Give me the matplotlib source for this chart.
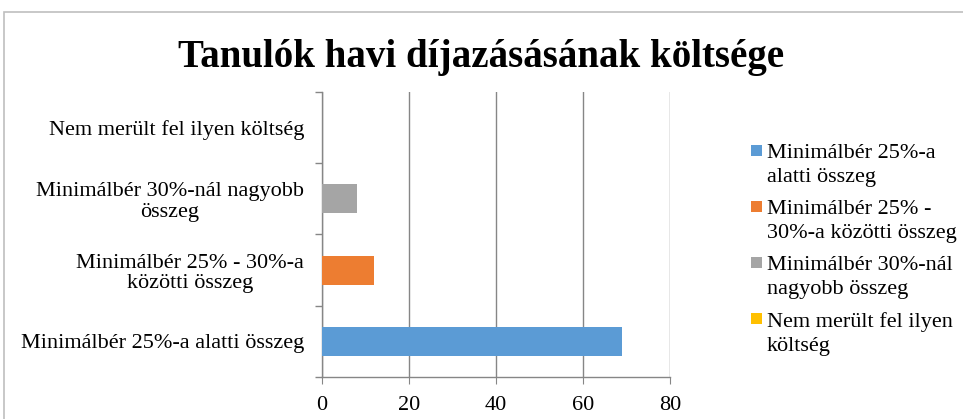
import matplotlib
matplotlib.use("Agg")
import matplotlib.pyplot as plt
from matplotlib.patches import Rectangle
from matplotlib.legend_handler import HandlerPatch

plt.rcParams['font.family'] = ['Liberation Serif', 'DejaVu Serif']

title = "Tanulók havi díjazásásának költsége"
categories = ["Minimálbér 25%-a alatti összeg",
              "Minimálbér 25% - 30%-a\nközötti összeg",
              "Minimálbér 30%-nál nagyobb\nösszeg",
              "Nem merült fel ilyen költség"]
series_names = ["Minimálbér 25%-a\nalatti összeg",
                "Minimálbér 25% -\n30%-a közötti összeg",
                "Minimálbér 30%-nál\nnagyobb összeg",
                "Nem merült fel ilyen\nköltség"]
values = [69, 12, 8, 0]
colors = ["#5b9bd5", "#ed7d31", "#a5a5a5", "#ffc000"]
xticks = [0, 20, 40, 60, 80]

FS = 16

fig = plt.figure(figsize=(9.63, 4.19), dpi=100)
fig.patches.append(Rectangle((4 / 963, -0.1), 1.2, 1 - 12 / 419 + 0.1, transform=fig.transFigure,
                             fill=False, edgecolor="#bfbfbf", linewidth=1.2))
ax = fig.add_axes([322 / 963, 1 - 377 / 419, (670 - 322) / 963, (377 - 92) / 419])

handles = []
for i, (name, v, c) in enumerate(zip(series_names, values, colors)):
    bars = ax.barh([i], [v], height=0.41, color=c, label=name, zorder=3)
    handles.append(bars.patches[0])

ax.set_xlim(0, 80)
ax.set_ylim(-0.5, 3.5)
ax.set_xticks(xticks)
ax.set_yticks(range(len(categories)))
ax.set_yticklabels(categories, fontsize=FS, ha="right", multialignment="center")
ax.set_yticks([-0.5, 0.5, 1.5, 2.5, 3.5], minor=True)
ax.tick_params(axis="y", which="major", length=0, pad=13)
ax.tick_params(axis="y", which="minor", length=5, color="#868686", width=1)
ax.tick_params(axis="x", length=5, color="#868686", labelsize=FS, pad=9)
for lbl in ax.get_yticklabels():
    lbl.set_linespacing(1.1)
ax.grid(axis="x", color="#868686", linewidth=1, zorder=0)
for s in ["top", "right"]:
    ax.spines[s].set_visible(False)
for s in ["left", "bottom"]:
    ax.spines[s].set_color("#868686")
    ax.spines[s].set_linewidth(1)

fig.text(0.5, 1 - 57 / 419, title, ha="center", va="center", fontsize=28, fontweight="bold")


def square(legend, orig_handle, xdescent, ydescent, width, height, fontsize):
    s = 0.5 * fontsize
    return Rectangle((-xdescent, -ydescent + height / 2 + 0.40 * fontsize), s, s)


leg = ax.legend(handles, series_names, loc="center left", bbox_to_anchor=(751 / 963, 1 - 250 / 419),
                bbox_transform=fig.transFigure,
                frameon=False, fontsize=FS, handlelength=0.5, handleheight=0.45, handletextpad=0.22,
                labelspacing=0.62, borderaxespad=0, borderpad=0,
                handler_map={Rectangle: HandlerPatch(patch_func=square)})
for t in leg.get_texts():
    t.set_linespacing(1.3)

fig.savefig("out.png", dpi=100)
